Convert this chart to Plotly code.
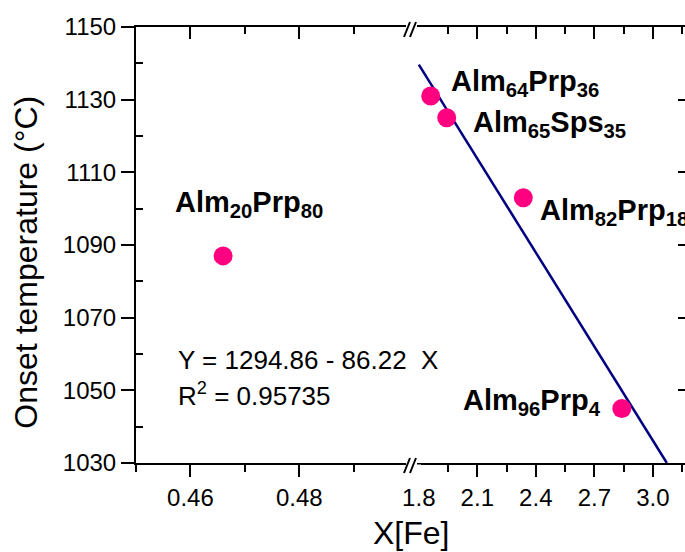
import numpy as np
import plotly.graph_objects as go

# ---- data ----
compositions = ["Alm<sub>20</sub>Prp<sub>80</sub>", "Alm<sub>64</sub>Prp<sub>36</sub>",
                "Alm<sub>65</sub>Sps<sub>35</sub>", "Alm<sub>82</sub>Prp<sub>18</sub>",
                "Alm<sub>96</sub>Prp<sub>4</sub>"]
x_fe = [0.466, 1.861, 1.943, 2.336, 2.841]
onset = [1087, 1131, 1125, 1103, 1045]
fit_intercept = 1294.86
fit_slope = -86.22
r_squared = 0.95735

left_range = [0.45, 0.5007]
right_range = [1.765, 3.165]
y_range = [1030, 1150]
left_ticks = [0.46, 0.48]
left_minor = [0.45, 0.47, 0.49]
right_ticks = [1.8, 2.1, 2.4, 2.7, 3.0]
right_minor = [1.95, 2.25, 2.55, 2.85, 3.15]
y_ticks = [1030, 1050, 1070, 1090, 1110, 1130, 1150]
y_minor = [1040, 1060, 1080, 1100, 1120, 1140]

FONT = "Liberation Sans, Arial, sans-serif"
PINK = "#FF0080"
NAVY = "#000080"
BREAK = 0.5027

left_x = [x for x in x_fe if x <= left_range[1]]
left_y = [y for x, y in zip(x_fe, onset) if x <= left_range[1]]
right_x = [x for x in x_fe if x >= right_range[0]]
right_y = [y for x, y in zip(x_fe, onset) if x >= right_range[0]]

fig = go.Figure()
fig.add_trace(go.Scatter(x=left_x, y=left_y, mode="markers", xaxis="x", yaxis="y",
                         marker=dict(size=19, color=PINK), showlegend=False))
fx = np.array([1.8, (y_range[0] - fit_intercept) / fit_slope])
fig.add_trace(go.Scatter(x=fx, y=fit_intercept + fit_slope * fx, mode="lines",
                         xaxis="x2", yaxis="y", line=dict(color=NAVY, width=2.5),
                         showlegend=False))
fig.add_trace(go.Scatter(x=right_x, y=right_y, mode="markers", xaxis="x2", yaxis="y",
                         marker=dict(size=19, color=PINK), showlegend=False))
# invisible traces so the mirrored frame axes get drawn
for xa, ya, xv in (("x3", "y", left_x), ("x4", "y", right_x), ("x2", "y2", right_x)):
    fig.add_trace(go.Scatter(x=xv[:1], y=onset[-1:], xaxis=xa, yaxis=ya, mode="markers",
                             marker=dict(opacity=0), hoverinfo="skip", showlegend=False))

common_x = dict(showgrid=False, zeroline=False, showline=True, linecolor="black",
                linewidth=2, tickcolor="black", tickwidth=2)

fig.update_layout(
    width=685, height=552,
    margin=dict(l=136, r=0, t=27, b=89),
    paper_bgcolor="white", plot_bgcolor="white",
    font=dict(family=FONT, color="black", size=24),
    xaxis=dict(domain=[0, BREAK], range=left_range, anchor="y", tickmode="array",
               tickvals=left_ticks, ticktext=[f"{v:.2f}" for v in left_ticks],
               ticks="outside", ticklen=12,
               minor=dict(tickvals=left_minor, ticks="outside", ticklen=7,
                          tickwidth=2, tickcolor="black"),
               tickfont=dict(size=24), **common_x),
    xaxis2=dict(domain=[BREAK, 1], range=right_range, anchor="y", tickmode="array",
                tickvals=right_ticks, ticktext=[f"{v:.1f}" for v in right_ticks],
                ticks="outside", ticklen=12,
                minor=dict(tickvals=right_minor, ticks="outside", ticklen=7,
                           tickwidth=2, tickcolor="black"),
                tickfont=dict(size=24), **common_x),
    xaxis3=dict(overlaying="x", side="top", anchor="y", range=left_range,
                tickmode="array", tickvals=left_ticks, showticklabels=False,
                ticks="inside", ticklen=12,
                minor=dict(tickvals=left_minor, ticks="inside", ticklen=7,
                           tickwidth=2, tickcolor="black"), **common_x),
    xaxis4=dict(overlaying="x2", side="top", anchor="y", range=right_range,
                tickmode="array", tickvals=right_ticks[1:], showticklabels=False,
                ticks="inside", ticklen=12,
                minor=dict(tickvals=right_minor, ticks="inside", ticklen=7,
                           tickwidth=2, tickcolor="black"), **common_x),
    yaxis=dict(range=y_range, anchor="x", tickmode="array", tickvals=y_ticks,
               ticks="outside", ticklen=13, tickwidth=2, tickcolor="black",
               minor=dict(tickvals=y_minor, ticks="inside", ticklen=7,
                          tickwidth=2, tickcolor="black"),
               showgrid=False, zeroline=False, showline=True, linecolor="black",
               linewidth=2, tickfont=dict(size=24)),
    yaxis2=dict(overlaying="y", side="right", anchor="x2", range=y_range,
                tickmode="array", tickvals=y_ticks, showticklabels=False,
                ticks="inside", ticklen=7, tickwidth=2, tickcolor="black",
                showgrid=False, zeroline=False, showline=False),
)

# axis titles
fig.add_annotation(text="X[Fe]", xref="paper", yref="paper", x=0.5, y=-0.16,
                   xanchor="center", yanchor="middle", showarrow=False,
                   font=dict(size=32))
fig.add_annotation(text="Onset temperature (°C)", xref="paper", yref="paper",
                   x=-0.2, y=0.46, xanchor="center", yanchor="middle",
                   textangle=-90, showarrow=False, font=dict(size=32))

# point labels (offsets in pixels)
label_offsets = [(-50, 52, "left"), (18, 13, "left"), (24, -6, "left"),
                 (15, -14, "left"), (-19, 7, "right")]
for name, x, y, (dx, dy, anc) in zip(compositions, x_fe, onset, label_offsets):
    ref = "x" if x <= left_range[1] else "x2"
    fig.add_annotation(text=f"<b>{name}</b>", xref=ref, yref="y", x=x, y=y,
                       xanchor=anc, yanchor="middle", xshift=dx, yshift=dy,
                       showarrow=False, font=dict(size=29))

# equation
fig.add_annotation(text=f"Y = {fit_intercept:.2f} - {abs(fit_slope):.2f}\u00a0 X",
                   xref="paper", yref="paper", x=0.073, y=0.236, xanchor="left",
                   yanchor="middle", showarrow=False, font=dict(size=26))
fig.add_annotation(text=f"R<sup>2</sup> = {r_squared:.5f}",
                   xref="paper", yref="paper", x=0.073, y=0.156, xanchor="left",
                   yanchor="middle", showarrow=False, font=dict(size=26))

# axis break marks (bottom and top)
for ya in (0, 1):
    fig.add_shape(type="rect", xref="paper", yref="paper", xsizemode="pixel",
                  ysizemode="pixel", xanchor=BREAK, yanchor=ya, x0=-6, x1=5,
                  y0=-3, y1=3, fillcolor="white", line=dict(width=0), layer="above")
    for off in (-8, -2):
        fig.add_shape(type="line", xref="paper", yref="paper", xsizemode="pixel",
                      ysizemode="pixel", xanchor=BREAK, yanchor=ya,
                      x0=off, y0=-10, x1=off + 6, y1=5,
                      line=dict(color="black", width=2), layer="above")
# hide the 1.8 tick stub under the break
fig.add_shape(type="rect", xref="paper", yref="paper", xsizemode="pixel",
              ysizemode="pixel", xanchor=BREAK, yanchor=0, x0=3, x1=9,
              y0=-14, y1=-1.5, fillcolor="white", line=dict(width=0), layer="above")

fig.write_html("out.html")
